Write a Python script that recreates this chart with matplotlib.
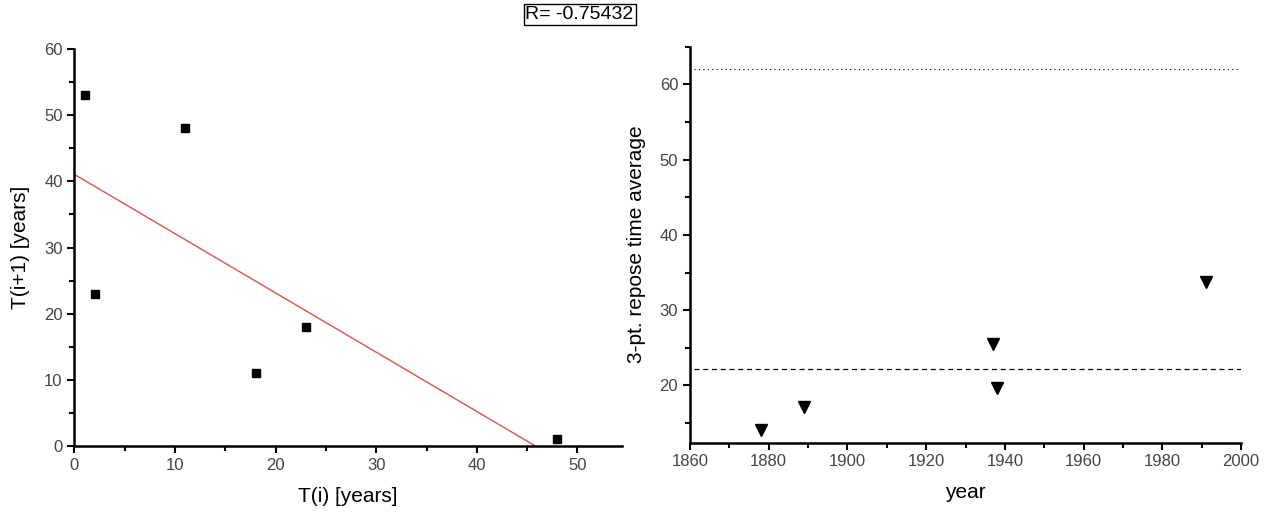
# plot.py
# repose time scatter with linear fit (left) and 3-pt averages by year (right)
import matplotlib.pyplot as plt
import numpy as np
from matplotlib.ticker import MultipleLocator

plt.rcParams['font.family'] = ['Liberation Sans Narrow', 'Liberation Sans', 'DejaVu Sans']

# left panel data: repose time T(i) vs the next one T(i+1)
t_i = np.array([1, 2, 11, 18, 23, 48])
t_next = np.array([53, 23, 48, 11, 18, 1])

# right panel data: 3-point repose time average by year
years = np.array([1878, 1889, 1937, 1938, 1991])
avg3 = np.array([14.1, 17.1, 25.5, 19.7, 33.8])
dotted_level = 62.0
dashed_level = 22.2

tick_color = '#444444'

fig = plt.figure(figsize=(12.71, 5.12), dpi=100)
ax1 = fig.add_axes([0.0586, 0.1289, 0.4305, 0.7754])
ax2 = fig.add_axes([0.5429, 0.1354, 0.4335, 0.7734])

def style(ax):
    for s in ['top', 'right']:
        ax.spines[s].set_visible(False)
    for s in ['left', 'bottom']:
        ax.spines[s].set_linewidth(1.8)
    ax.tick_params(which='major', direction='out', length=5, width=1.5,
                   labelsize=12, labelcolor=tick_color)
    ax.tick_params(which='minor', direction='out', length=3.5, width=1.5)

# left: scatter and least squares line
ax1.plot(t_i, t_next, 's', color='black', ms=6)
slope, intercept = np.polyfit(t_i, t_next, 1)
r = np.corrcoef(t_i, t_next)[0, 1]
xfit = np.array([0, t_i.max()])
ax1.plot(xfit, slope * xfit + intercept, color='#d9534f', lw=1)
ax1.set_xlim(0, 54.4)
ax1.set_ylim(0, 60)
ax1.xaxis.set_major_locator(MultipleLocator(10))
ax1.xaxis.set_minor_locator(MultipleLocator(5))
ax1.yaxis.set_major_locator(MultipleLocator(10))
ax1.yaxis.set_minor_locator(MultipleLocator(5))
style(ax1)
ax1.set_xlabel('T(i) [years]', fontsize=15, labelpad=10)
ax1.set_ylabel('T(i+1) [years]', fontsize=15, labelpad=10)

fig.text(0.456, 0.972, 'R= %.5f' % r, fontsize=14, ha='center', va='center',
         bbox=dict(boxstyle='square,pad=0.1', facecolor='white',
                   edgecolor='black', lw=1))

# right: 3-pt averages with reference levels
ax2.plot(years, avg3, 'v', color='black', ms=9)
ax2.hlines(dotted_level, 1861, 2000, colors='black', linestyles=(0, (1, 3)), lw=0.8)
ax2.hlines(dashed_level, 1861, 2000, colors='black', linestyles=(0, (4, 3)), lw=0.9)
ax2.set_xlim(1860, 2000)
ax2.set_ylim(12.4, 65)
ax2.xaxis.set_major_locator(MultipleLocator(20))
ax2.xaxis.set_minor_locator(MultipleLocator(10))
ax2.yaxis.set_major_locator(MultipleLocator(10))
ax2.yaxis.set_minor_locator(MultipleLocator(5))
style(ax2)
ax2.set_xlabel('year', fontsize=15, labelpad=10)
ax2.set_ylabel('3-pt. repose time average', fontsize=15, labelpad=10)

fig.savefig('out.png', dpi=100)
